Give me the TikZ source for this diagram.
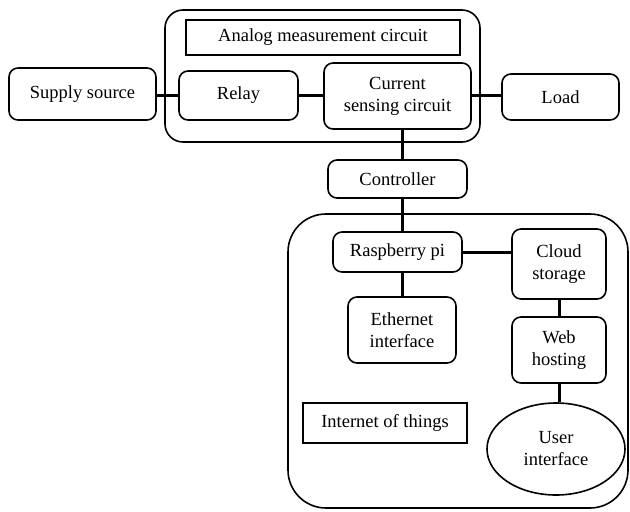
\documentclass[tikz,border=0pt]{standalone}
\usepackage{fontspec}
\setmainfont{Liberation Serif}
\usetikzlibrary{shapes.geometric}
\begin{document}
\begin{tikzpicture}[x=1pt,y=-1pt,
  txt/.style={font=\fontsize{18.5}{22}\selectfont, align=center, inner sep=0pt},
  rbox/.style={txt, draw, line width=1.6pt, rounded corners=9pt},
  sbox/.style={txt, draw, line width=1.6pt},
  group/.style={draw, line width=1.6pt, inner sep=0pt},
  conn/.style={line width=3pt}]
\useasboundingbox (0,0) rectangle (630,512);
% groups
\node[group, rounded corners=18pt, minimum width=315pt, minimum height=132pt] (analog) at (322.5,76) {};
\node[group, rounded corners=38pt, minimum width=340pt, minimum height=294pt] (iot) at (458,361) {};
% top
\node[sbox, minimum width=274pt, minimum height=35pt] (title) at (323,37.5) {Analog measurement circuit};
\node[rbox, minimum width=147pt, minimum height=52pt] (supply) at (82.5,94) {Supply source};
\node[rbox, minimum width=119pt, minimum height=49pt] (relay) at (238.5,95.5) {Relay};
\node[rbox, minimum width=147pt, minimum height=66pt] (current) at (397.5,96) {Current\\sensing circuit};
\node[rbox, minimum width=117pt, minimum height=46pt] (load) at (560.5,97) {Load};
\node[rbox, minimum width=139pt, minimum height=38pt] (ctrl) at (397.5,179) {Controller};
% iot
\node[rbox, minimum width=129pt, minimum height=40pt] (rasp) at (397.5,252) {Raspberry pi};
\node[rbox, minimum width=94pt, minimum height=70pt] (cloud) at (559,264) {Cloud\\storage};
\node[rbox, minimum width=108pt, minimum height=66pt] (eth) at (402,330) {Ethernet\\interface};
\node[rbox, minimum width=94pt, minimum height=66pt] (web) at (559,350) {Web\\hosting};
\node[sbox, minimum width=164pt, minimum height=40pt] (iotlabel) at (385,423) {Internet of things};
\node[txt, draw, line width=1.6pt, ellipse, minimum width=138pt, minimum height=92pt] (user) at (556,449) {User\\interface};
% connectors
\draw[conn] (supply.east |- 0,95) -- (relay.west |- 0,95);
\draw[conn] (relay.east |- 0,95) -- (current.west |- 0,95);
\draw[conn] (current.east |- 0,95) -- (load.west |- 0,95);
\draw[conn] (current.south -| 402,0) -- (ctrl.north -| 402,0);
\draw[conn] (ctrl.south -| 402,0) -- (rasp.north -| 402,0);
\draw[conn] (rasp.east) -- (cloud.west |- rasp.east);
\draw[conn] (rasp.south -| 402,0) -- (eth.north -| 402,0);
\draw[conn] (cloud.south -| 559,0) -- (web.north -| 559,0);
\draw[conn] (web.south -| 559,0) -- (user.north -| 559,0);
\end{tikzpicture}
\end{document}
